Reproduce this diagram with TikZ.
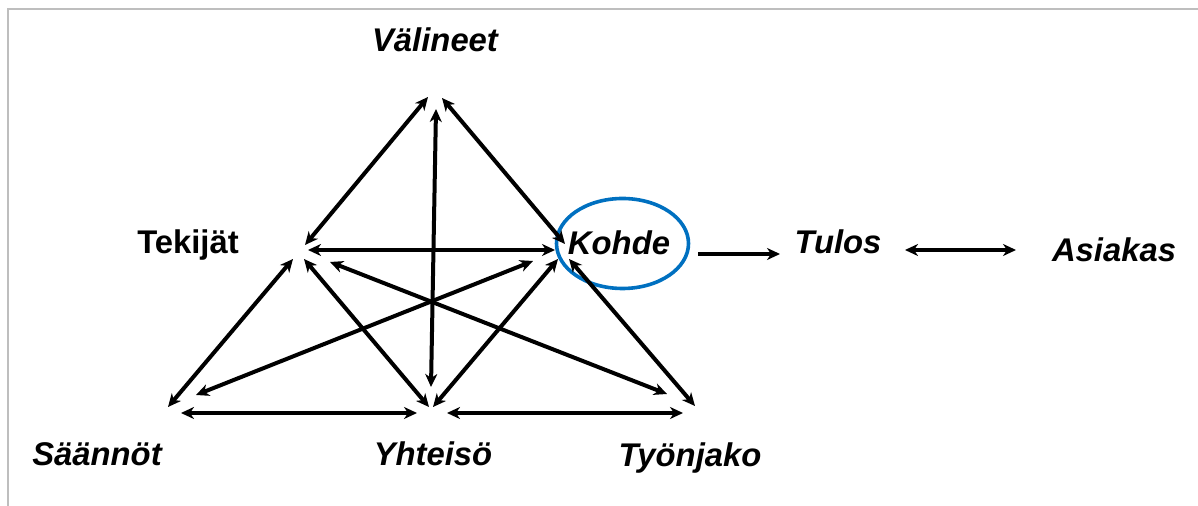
\documentclass[tikz,border=0pt]{standalone}
\usepackage{fontspec}
\setmainfont{Liberation Sans}
\usetikzlibrary{arrows.meta,shapes.geometric}
\definecolor{ringblue}{RGB}{0,112,192}
\definecolor{framegray}{RGB}{190,190,190}
\begin{document}
\begin{tikzpicture}[x=0.5pt,y=-0.5pt,
  lbl/.style={font=\fontsize{16.4}{19}\selectfont\bfseries\itshape, anchor=base, inner sep=0pt},
  lblup/.style={font=\fontsize{16.4}{19}\selectfont\bfseries, anchor=base, inner sep=0pt},
  link/.style={line width=2pt, {Stealth[length=6.5pt,width=6pt,inset=2pt]}-{Stealth[length=6.5pt,width=6pt,inset=2pt]}},
  oneway/.style={line width=2pt, -{Stealth[length=6.5pt,width=6pt,inset=2pt]}},
  ring/.style={draw=ringblue, line width=1.8pt, ellipse, inner sep=0pt, minimum width=66pt, minimum height=45pt},
  frame/.style={draw=framegray, line width=1pt}]
\useasboundingbox (0,0) rectangle (1198,506);
\draw[frame] (8,506) -- (8,9) -- (1198,9);

% ring round Kohde
\node[ring] (kring) at (622.5,243.5) {};

% labels
\node[lbl]   (valineet) at (435,52)  {Välineet};
\node[lblup] (tekijat)  at (188,254) {Tekijät};
\node[lbl]   (kohde)    at (619,255) {Kohde};
\node[lbl]   (tulos)    at (838,254) {Tulos};
\node[lbl]   (asiakas)  at (1114,262) {Asiakas};
\node[lbl]   (saannot)  at (97,466)  {Säännöt};
\node[lbl]   (yhteiso)  at (433,466) {Yhteisö};
\node[lbl]   (tyonjako) at (690,467) {Työnjako};

% end points
\coordinate (a1) at (428,97);  \coordinate (b1) at (305,245);
\coordinate (a2) at (442,98);  \coordinate (b2) at (565,244);
\coordinate (a3) at (436,109); \coordinate (b3) at (431,387);
\coordinate (a4) at (308,250); \coordinate (b4) at (555,250);
\coordinate (a5) at (293,259); \coordinate (b5) at (168,407);
\coordinate (a6) at (304,259); \coordinate (b6) at (429,407);
\coordinate (a7) at (330,262); \coordinate (b7) at (667,394);
\coordinate (a8) at (533,261); \coordinate (b8) at (196,395);
\coordinate (a9) at (558,259); \coordinate (b9) at (433,407);
\coordinate (a10) at (569,259); \coordinate (b10) at (695,406);
\coordinate (a11) at (181,413); \coordinate (b11) at (417,413);
\coordinate (a12) at (447,413); \coordinate (b12) at (683,413);
\coordinate (a13) at (698,254); \coordinate (b13) at (780,254);
\coordinate (a14) at (905,250); \coordinate (b14) at (1016,250);

\foreach \i in {1,...,12,14} {\draw[link] (a\i) -- (b\i);}
\draw[oneway] (a13) -- (b13);
\end{tikzpicture}
\end{document}
